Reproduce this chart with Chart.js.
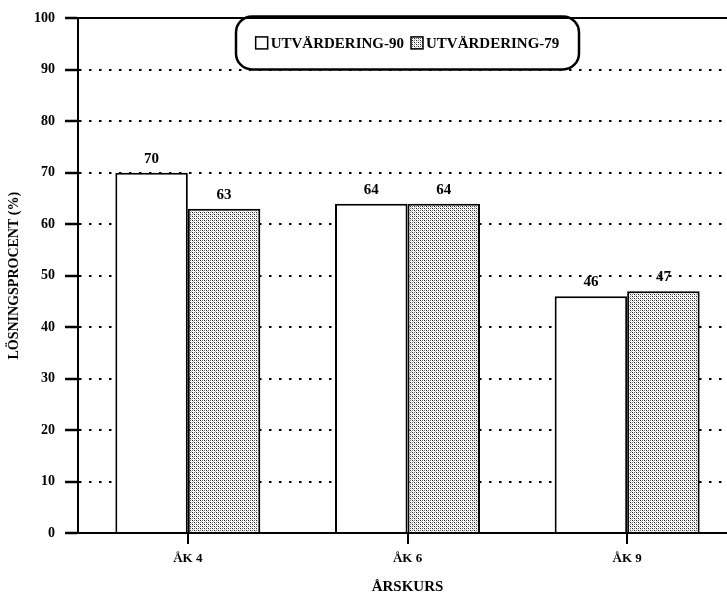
<!DOCTYPE html>
<html>
<head>
<meta charset="utf-8">
<script src="https://cdn.jsdelivr.net/npm/chart.js@4.4.1/dist/chart.umd.min.js"></script>
<style>
    html, body { margin: 0; padding: 0; overflow: hidden; background: #fff; }
    canvas { display: block; }
</style>
</head>
<body>
<canvas id="stapelDiagram" width="737" height="596"></canvas>
<script>
const arskurser = ['ÅK 4', 'ÅK 6', 'ÅK 9'];
const utvardering90 = [70, 64, 46];
const utvardering79 = [63, 64, 47];
const serieNamn = ['UTVÄRDERING-90', 'UTVÄRDERING-79'];
const yMin = 0;
const yMax = 100;
const ySteg = 10;

const typsnitt = '"Liberation Serif", "DejaVu Serif", serif';

document.addEventListener('DOMContentLoaded', function () {
    const canvas = document.getElementById('stapelDiagram');
    const ctx = canvas.getContext('2d');

    // rastrerat (prickigt) mönster för den grå stapeln
    function skapaRaster() {
        const c = document.createElement('canvas');
        c.width = 4; c.height = 4;
        const g = c.getContext('2d');
        g.fillStyle = '#fff';
        g.fillRect(0, 0, 4, 4);
        g.fillStyle = '#222';
        g.fillRect(0, 0, 1, 1);
        g.fillRect(2, 2, 1, 1);
        g.fillStyle = '#777';
        g.fillRect(2, 0, 1, 1);
        g.fillRect(0, 2, 1, 1);
        g.fillStyle = '#bbb';
        g.fillRect(1, 1, 1, 1);
        g.fillRect(3, 3, 1, 1);
        return ctx.createPattern(c, 'repeat');
    }
    const raster = skapaRaster();

    // värden ovanför staplarna
    const vardeEtiketter = {
        id: 'vardeEtiketter',
        afterDatasetsDraw(chart) {
            const c = chart.ctx;
            c.save();
            c.fillStyle = '#000';
            c.font = 'bold 15px ' + typsnitt;
            c.textAlign = 'center';
            c.textBaseline = 'alphabetic';
            chart.data.datasets.forEach((ds, i) => {
                chart.getDatasetMeta(i).data.forEach((el, j) => {
                    c.fillText(String(ds.data[j]), el.x, el.y - 10);
                });
            });
            c.restore();
        }
    };

    // legend i rundad ram
    const ramLegend = {
        id: 'ramLegend',
        afterDraw(chart) {
            const c = chart.ctx;
            const area = chart.chartArea;
            const bredd = 343, hojd = 53;
            const mitt = (area.left + area.right) / 2;
            const x0 = mitt - bredd / 2, y0 = area.top - 2;
            c.save();
            c.lineWidth = 2.5;
            c.strokeStyle = '#000';
            c.beginPath();
            c.roundRect(x0, y0, bredd, hojd, 16);
            c.stroke();

            c.font = 'bold 15px ' + typsnitt;
            c.textBaseline = 'middle';
            const ruta = 12, mellan = 3, luft = 7;
            const texter = chart.data.datasets.map(ds => ds.label);
            let total = 0;
            texter.forEach((t, i) => {
                total += ruta + mellan + c.measureText(t).width;
                if (i < texter.length - 1) total += luft;
            });
            let x = mitt - total / 2;
            const yMitt = y0 + hojd / 2;
            chart.data.datasets.forEach((ds, i) => {
                c.fillStyle = ds.backgroundColor;
                c.fillRect(x, yMitt - ruta / 2, ruta, ruta);
                c.lineWidth = 1.5;
                c.strokeRect(x, yMitt - ruta / 2, ruta, ruta);
                x += ruta + mellan;
                c.fillStyle = '#000';
                c.fillText(texter[i], x, yMitt + 1);
                x += c.measureText(texter[i]).width + luft;
            });
            c.restore();
        }
    };

    new Chart(ctx, {
        type: 'bar',
        data: {
            labels: arskurser,
            datasets: [
                {
                    label: serieNamn[0],
                    data: utvardering90,
                    backgroundColor: '#fff',
                    borderColor: '#000',
                    borderWidth: 2
                },
                {
                    label: serieNamn[1],
                    data: utvardering79,
                    backgroundColor: raster,
                    borderColor: '#000',
                    borderWidth: 2
                }
            ]
        },
        options: {
            responsive: false,
            animation: false,
            devicePixelRatio: 1,
            categoryPercentage: 0.66,
            barPercentage: 1,
            layout: { padding: { top: 15, left: 0, right: 0, bottom: 0 } },
            plugins: {
                legend: { display: false },
                tooltip: { enabled: false }
            },
            scales: {
                x: {
                    ticks: {
                        color: '#000',
                        padding: 7,
                        font: { family: typsnitt, size: 13, weight: 'bold' }
                    },
                    grid: {
                        offset: false,
                        drawOnChartArea: false,
                        color: '#000',
                        lineWidth: 2,
                        tickLength: 11
                    },
                    border: { color: '#000', width: 2 },
                    title: {
                        display: true,
                        text: 'ÅRSKURS',
                        color: '#000',
                        font: { family: typsnitt, size: 15, weight: 'bold' },
                        padding: { top: 6, bottom: 0 }
                    },
                    afterFit: s => { s.height = 63; }
                },
                y: {
                    min: yMin,
                    max: yMax,
                    ticks: {
                        stepSize: ySteg,
                        color: '#000',
                        padding: 10,
                        font: { family: typsnitt, size: 14, weight: 'bold' }
                    },
                    grid: {
                        color: '#000',
                        lineWidth: 2,
                        tickLength: 13,
                        tickWidth: 2.5,
                        tickBorderDash: []
                    },
                    border: {
                        color: '#000',
                        width: 2,
                        dash: c => (c.tick && c.tick.value === yMax) ? [] : [2.5, 7.5]
                    },
                    title: {
                        display: true,
                        text: 'LÖSNINGSPROCENT (%)',
                        color: '#000',
                        font: { family: typsnitt, size: 14, weight: 'bold' },
                        padding: { top: 6, bottom: 0 }
                    },
                    afterFit: s => { s.width = 78; }
                }
            }
        },
        plugins: [vardeEtiketter, ramLegend]
    });
});
</script>
</body>
</html>
